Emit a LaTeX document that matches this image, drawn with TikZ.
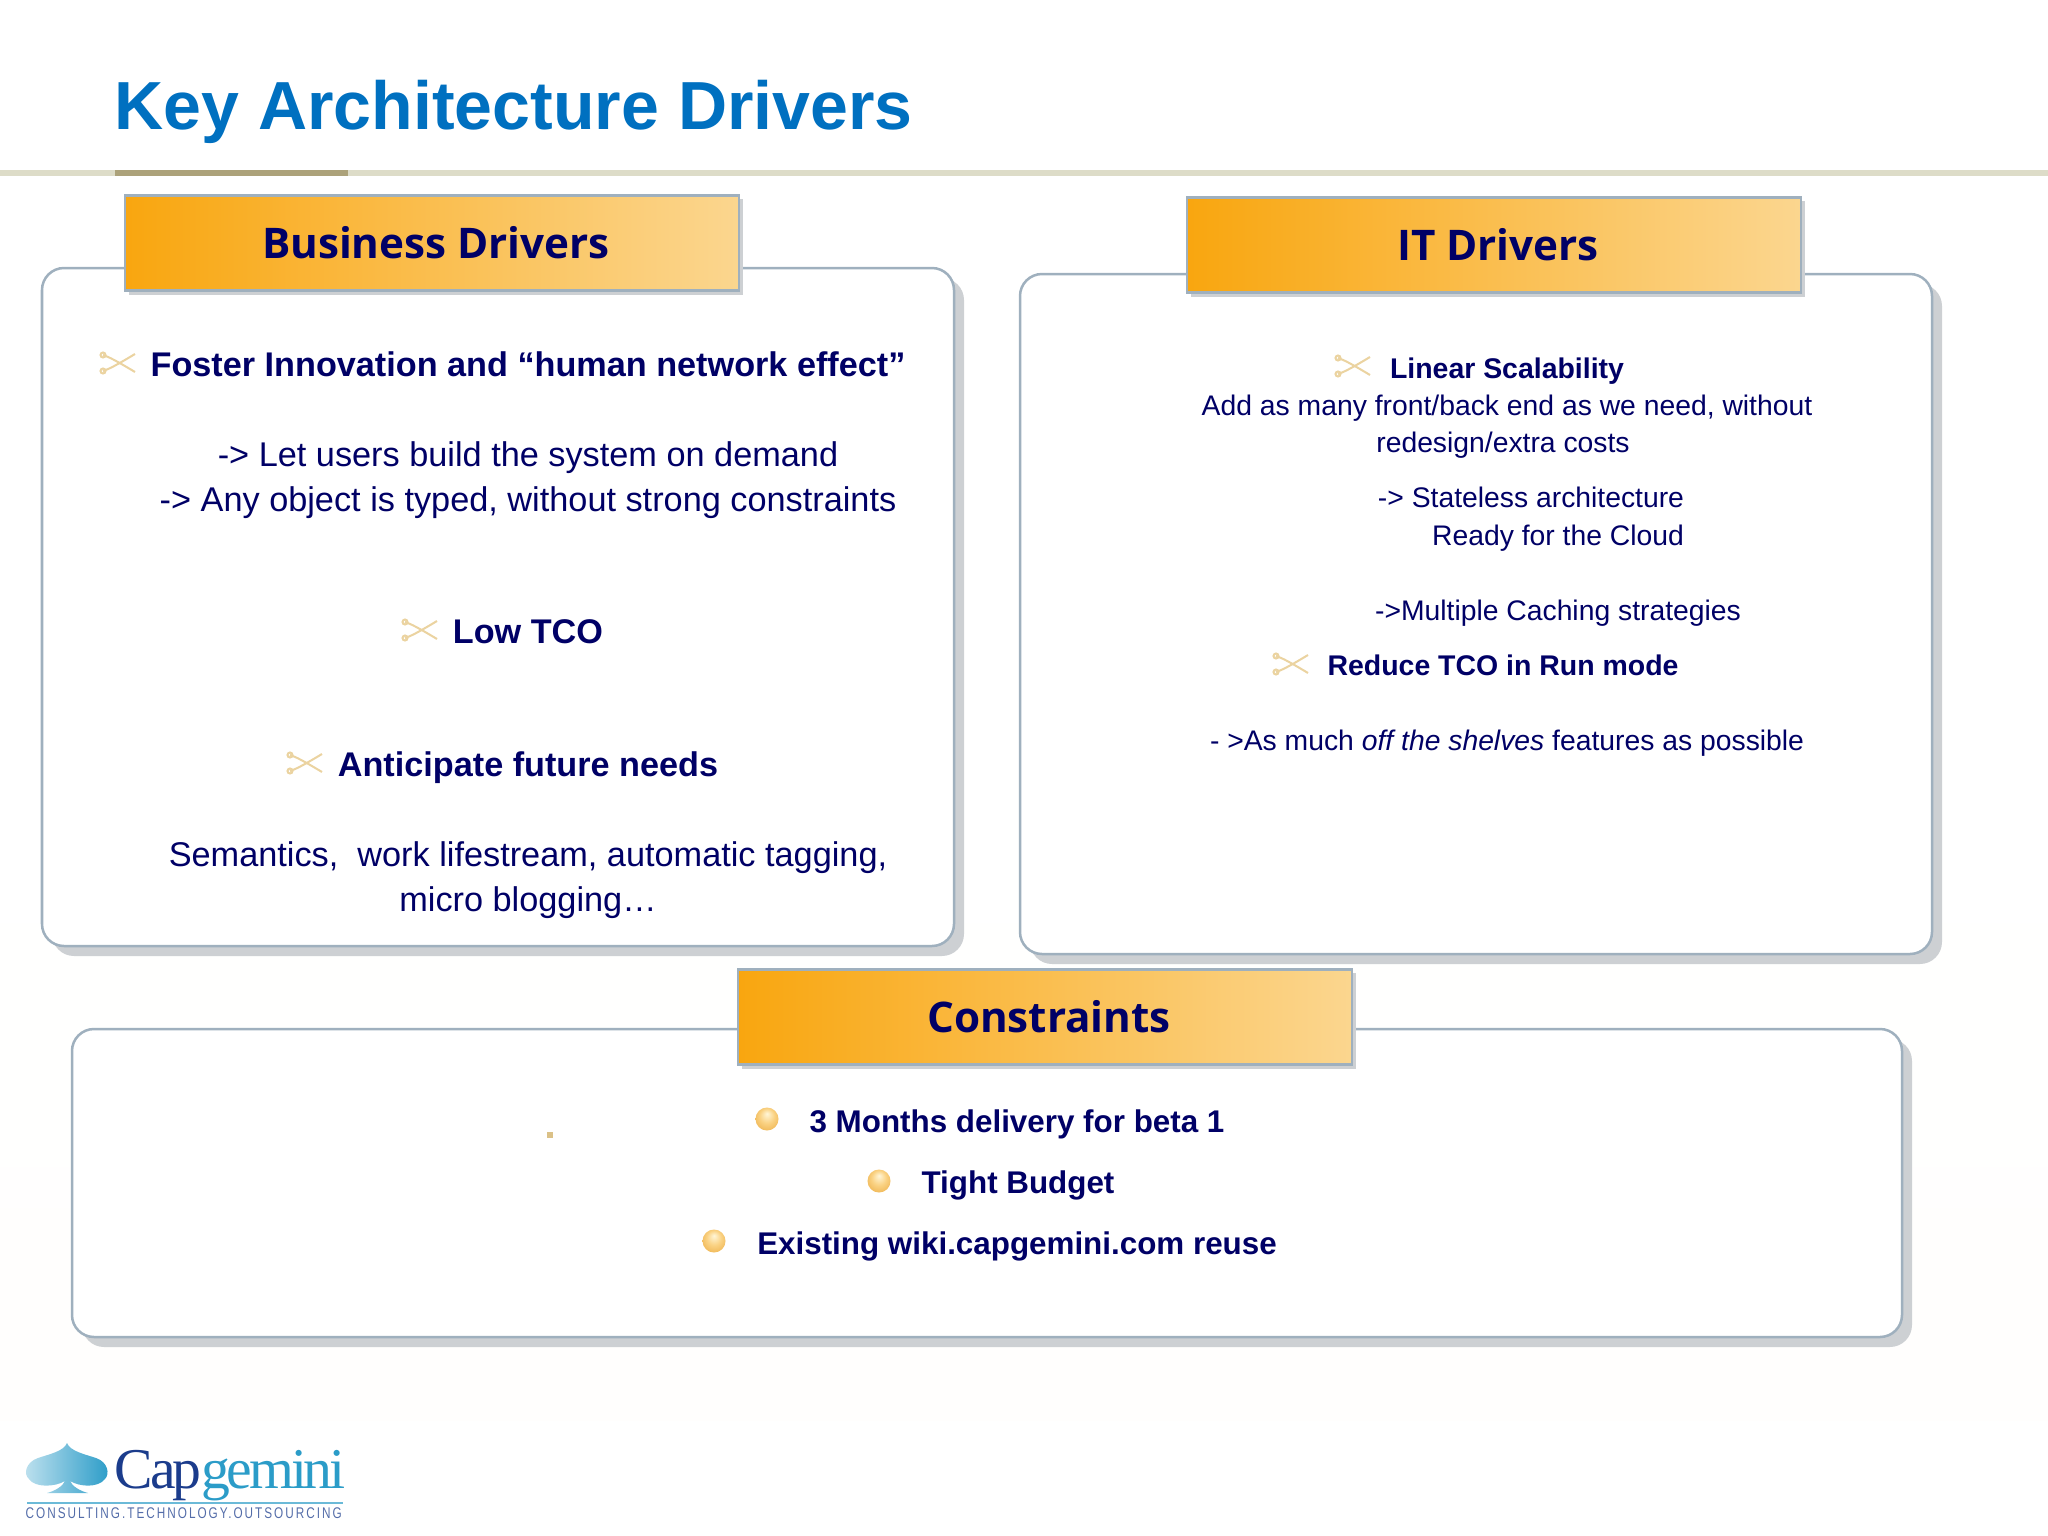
\documentclass[tikz,border=0pt]{standalone}
\usepackage{fontspec}
\setmainfont{Liberation Sans}
\newfontfamily\headfont{Open Sans}
\newfontfamily\logofont{Liberation Serif}
\usetikzlibrary{shadings}
\definecolor{navyink}{HTML}{000066}
\definecolor{titleblue}{HTML}{0070C0}
\definecolor{ruleline}{HTML}{DDDCC8}
\definecolor{rulemark}{HTML}{ACA27A}
\definecolor{panelline}{HTML}{9FB0BE}
\definecolor{panelshade}{HTML}{CDD0D3}
\definecolor{gold}{HTML}{F9A60F}
\definecolor{goldpale}{HTML}{FBD68F}
\definecolor{snip}{HTML}{EBD3A0}
\definecolor{logoblue}{HTML}{1B3C8C}
\definecolor{logoteal}{HTML}{2B9CC8}
\definecolor{balltop}{HTML}{FFF6D8}
\definecolor{ballmid}{HTML}{FAD283}
\definecolor{ballrim}{HTML}{EAA83C}
\pgfdeclareradialshading{goldball}{\pgfpoint{0bp}{12bp}}{
  color(0bp)=(balltop);
  color(16bp)=(ballmid);
  color(38bp)=(ballrim)}
\tikzset{
  panel/.style={draw=panelline,line width=0.25mm,fill=white,rounded corners=0.22cm},
  panelback/.style={fill=panelshade,rounded corners=0.22cm},
  header/.style={draw=panelline,line width=0.25mm,left color=gold,right color=goldpale,
    minimum width=6.14cm,minimum height=0.95cm,inner sep=0pt,text=navyink,
    font=\headfont\bfseries\fontsize{12}{14}\selectfont},
  bigline/.style={text=navyink,inner sep=0pt,text height=1.5ex,text depth=.3ex,font=\fontsize{9.75}{12}\selectfont},
  bigbold/.style={bigline,font=\bfseries\fontsize{9.73}{12}\selectfont},
  smallline/.style={text=navyink,inner sep=0pt,text height=1.5ex,text depth=.3ex,font=\fontsize{8.05}{10}\selectfont},
  smallbold/.style={smallline,font=\bfseries\fontsize{8.09}{10}\selectfont},
  limitbold/.style={smallline,font=\bfseries\fontsize{8.92}{10}\selectfont},
  ball/.style={circle,minimum size=0.23cm,inner sep=0pt,shading=goldball},
  scissor/.pic={
    \draw[snip,line width=0.2mm] (-16,8) .. controls (-10,6) and (-4,3) .. (16,-9);
    \draw[snip,line width=0.2mm] (-16,-8) .. controls (-10,-6) and (-4,-3) .. (16,9);
    \draw[snip,line width=0.2mm] (-16,8) circle (2.5);
    \draw[snip,line width=0.2mm] (-16,-8) circle (2.5);
  }
}
\begin{document}
\begin{tikzpicture}[x=0.01cm,y=-0.01cm]
\useasboundingbox (0,0) rectangle (2048,1536);
\shade[top color=white,bottom color=white!98!goldpale] (0,780) rectangle (2048,1420);
% title and rule
\node[anchor=west,inner sep=0pt,text=titleblue,font=\bfseries\fontsize{19.35}{22}\selectfont] (title) at (114,112) {Key Architecture Drivers};
\fill[ruleline] (0,170) rectangle (2048,176);
\fill[rulemark] (115,170) rectangle (348,176);
% panels
\foreach \xa/\ya/\xb/\yb in {42/268/954/946,1020/274/1932/954,72/1029/1902/1337}{
  \fill[panelback] (\xa+10,\ya+10) rectangle (\xb+10,\yb+10);
  \draw[panel] (\xa,\ya) rectangle (\xb,\yb);
}
% headers
\foreach \name/\x/\y/\label in {business/432/243/Business Drivers,itdrivers/1494/245/IT Drivers,constraints/1045/1017/Constraints}{
  \fill[panelshade] (\x-303,\y-44) rectangle (\x+311,\y+52);
  \node[header] (\name) at (\x,\y) {\hspace{0.08cm}\label};
}
% business drivers
\pic at (119,363) {scissor};
\node[bigbold] (foster) at (528,365) {Foster Innovation and “human network effect”};
\node[bigline] (letusers) at (528,455) {-> Let users build the system on demand};
\node[bigline] (typed) at (528,500) {-> Any object is typed, without strong constraints};
\pic at (421,630) {scissor};
\node[bigbold] (lowtco) at (528,632) {Low TCO};
\pic at (306,763) {scissor};
\node[bigbold] (future) at (528,765) {Anticipate future needs};
\node[bigline] (semantics) at (528,855) {Semantics,\ \ work lifestream, automatic tagging,};
\node[bigline] (blogging) at (528,900) {micro blogging…};
% it drivers
\pic at (1354,366) {scissor};
\node[smallbold] (linear) at (1507,367) {Linear Scalability};
\node[smallline] (frontback) at (1507,404) {Add as many front/back end as we need, without};
\node[smallline] (redesign) at (1503,441) {redesign/extra costs};
\node[smallline] (stateless) at (1531,496) {-> Stateless architecture};
\node[smallline] (cloud) at (1558,534) {Ready for the Cloud};
\node[smallline] (caching) at (1558,609) {->Multiple Caching strategies};
\pic at (1292,664) {scissor};
\node[smallbold] (reduce) at (1503,664) {Reduce TCO in Run mode};
\node[smallline] (shelves) at (1507,739) {- >As much \emph{off the shelves} features as possible};
% constraints
\fill[rulemark!40!goldpale] (547,1132) rectangle (553,1138);
\node[ball] (ballmonths) at (767,1119) {};
\node[limitbold] (months) at (1017,1121) {3 Months delivery for beta 1};
\node[ball] (ballbudget) at (879,1181) {};
\node[limitbold] (budget) at (1018,1182) {Tight Budget};
\node[ball] (ballwiki) at (714,1241) {};
\node[limitbold] (wiki) at (1017,1243) {Existing wiki.capgemini.com reuse};
% logo
\shade[left color=logoteal!30!white,right color=logoteal] (67,1443) .. controls (70,1451) and (84,1454) .. (96,1458)
  .. controls (108,1462) and (110,1474) .. (105,1479) .. controls (98,1488) and (80,1487) .. (70,1481)
  .. controls (72,1486) and (80,1491) .. (88,1493) -- (47,1493) .. controls (55,1491) and (63,1486) .. (65,1481)
  .. controls (55,1487) and (35,1488) .. (29,1479) .. controls (23,1474) and (26,1462) .. (38,1458)
  .. controls (50,1454) and (64,1451) .. (67,1443) -- cycle;
\node[anchor=base west,inner sep=0pt,font=\logofont\fontsize{16.4}{18}\selectfont] (capgemini) at (114,1488) {\addfontfeature{LetterSpace=-5.5}\textcolor{logoblue}{Cap}\textcolor{logoteal}{gemini}};
\draw[logoteal!70!white,line width=0.2mm] (27,1503) -- (343,1503);
\node[anchor=west,inner sep=0pt,text=logoblue!75!white,font=\fontsize{4.4}{5}\selectfont] (tagline) at (25,1513) {\addfontfeature{FakeStretch=0.76,LetterSpace=13}CONSULTING.TECHNOLOGY.OUTSOURCING};
\end{tikzpicture}
\end{document}
